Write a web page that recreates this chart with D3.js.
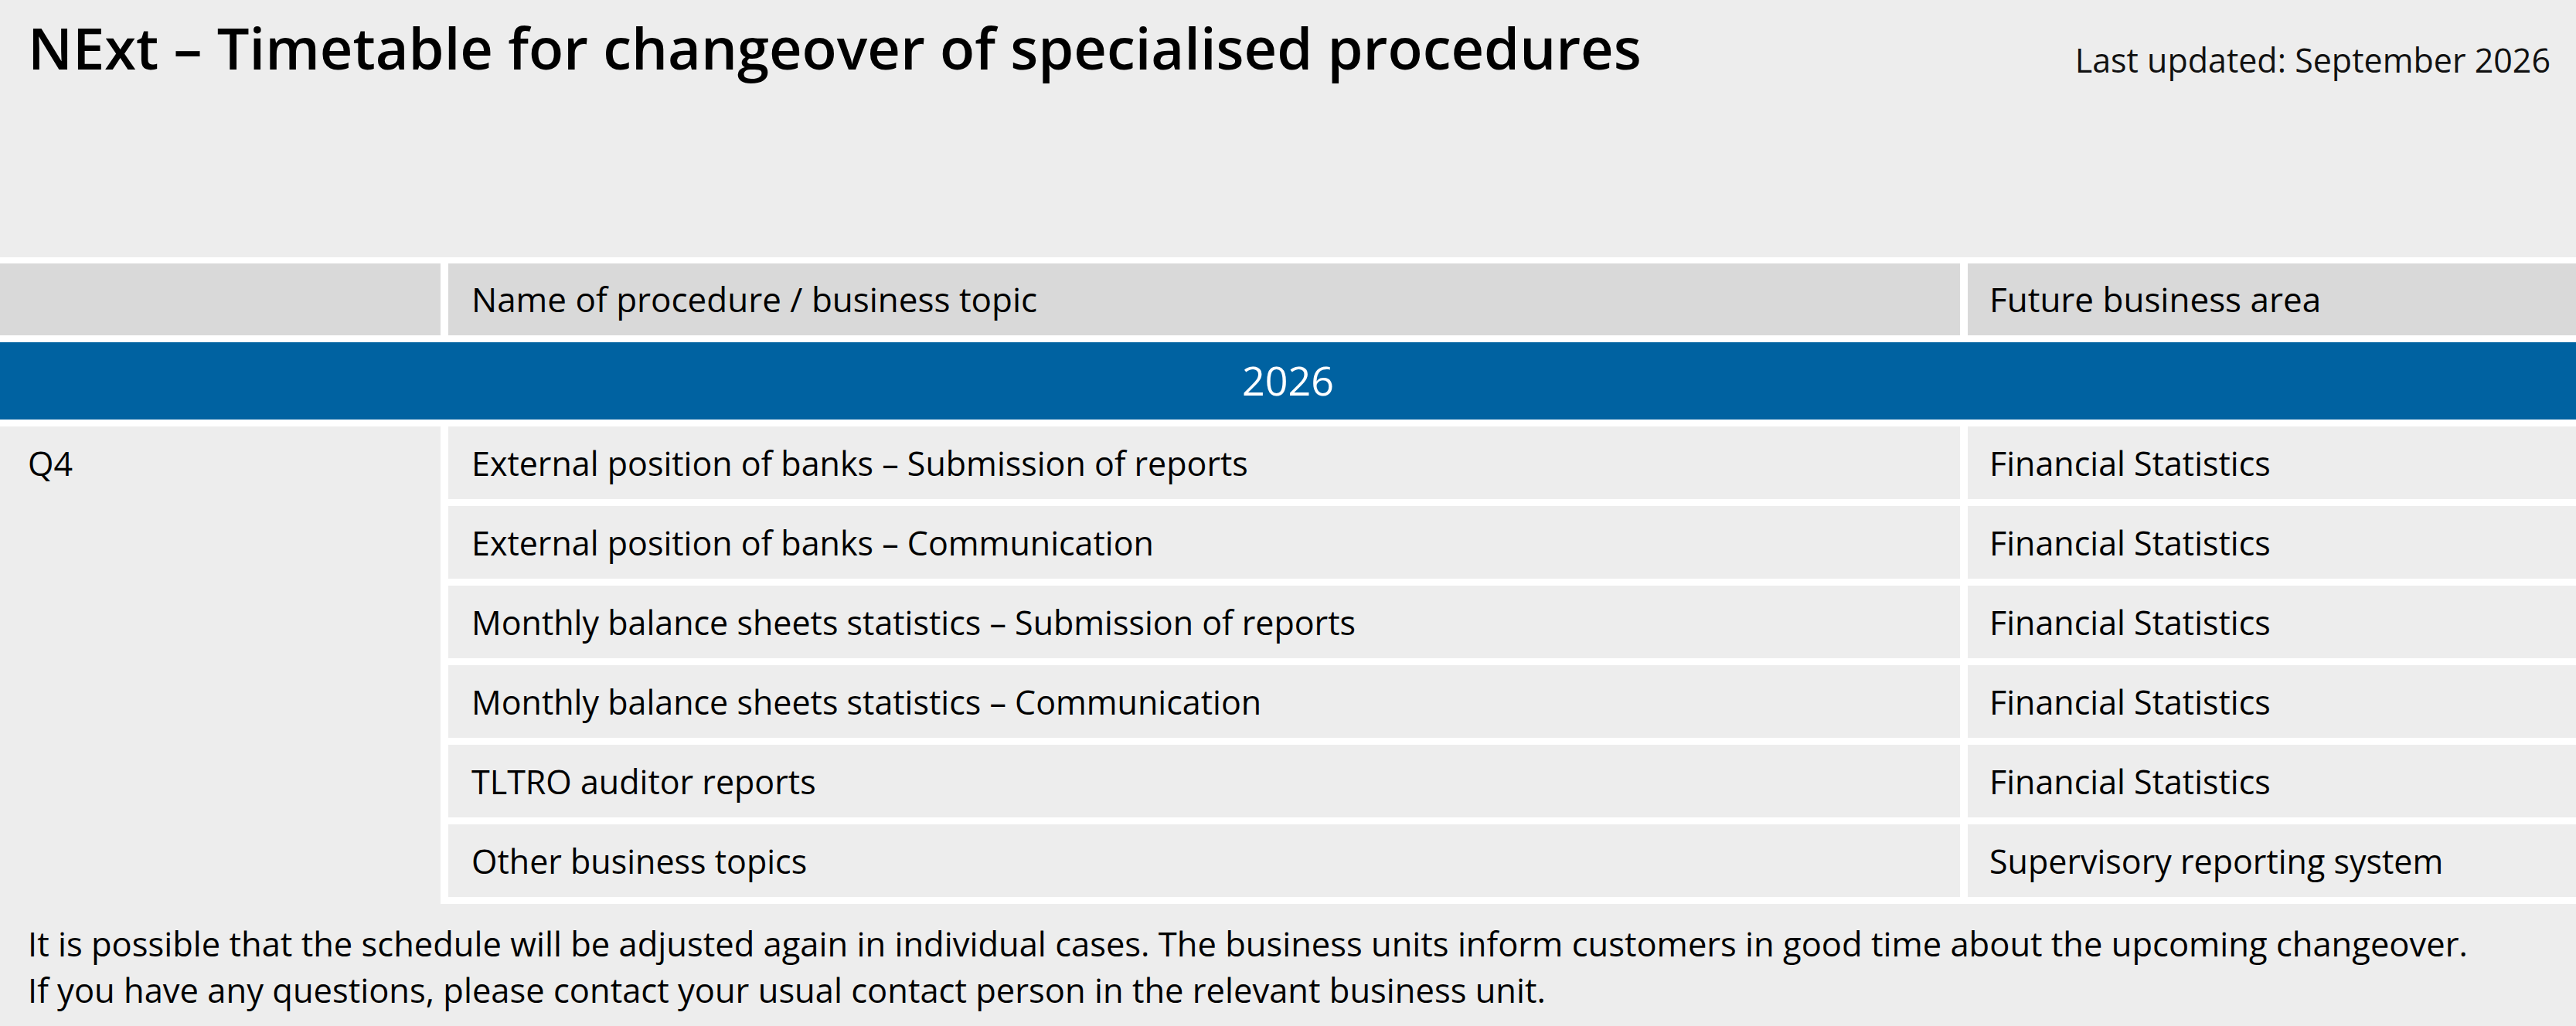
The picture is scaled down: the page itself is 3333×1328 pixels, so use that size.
<!DOCTYPE html>
<html><head><meta charset="utf-8">
<script src="https://cdn.jsdelivr.net/npm/d3@7"></script>
<style>body{margin:0;background:#ededed}svg{display:block}</style>
</head><body><svg id="chart"></svg>
<script>
const title = "NExt – Timetable for changeover of specialised procedures";
const updated = "Last updated: September 2026";
const headers = ["", "Name of procedure / business topic", "Future business area"];
const year = "2026";
const quarter = "Q4";
const procedures = [
  "External position of banks – Submission of reports",
  "External position of banks – Communication",
  "Monthly balance sheets statistics – Submission of reports",
  "Monthly balance sheets statistics – Communication",
  "TLTRO auditor reports",
  "Other business topics"
];
const areas = ["Financial Statistics", "Financial Statistics", "Financial Statistics",
  "Financial Statistics", "Financial Statistics", "Supervisory reporting system"];
const notes = [
  "It is possible that the schedule will be adjusted again in individual cases. The business units inform customers in good time about the upcoming changeover.",
  "If you have any questions, please contact your usual contact person in the relevant business unit."
];

const W = 3333, H = 1328, gap = 9, font = "'Open Sans', 'Noto Sans', sans-serif";
const svg = d3.select("#chart").attr("width", W).attr("height", H).style("font-family", font);
svg.append("rect").attr("width", W).attr("height", H).attr("fill", "#ededed");

const cols = [[0, 570], [580, 2536], [2546, W]];
const tx = [36, 610, 2574];

svg.append("text").attr("x", 36).attr("y", 90).attr("font-size", 74).attr("font-weight", 600).attr("fill", "#000").text(title);
svg.append("text").attr("x", 3300).attr("y", 94).attr("text-anchor", "end").attr("font-size", 43).attr("fill", "#111").text(updated);

// white band behind table
svg.append("rect").attr("x", 0).attr("y", 333).attr("width", W).attr("height", 840).attr("fill", "#fff");

// header
cols.forEach((c, i) => {
  svg.append("rect").attr("x", c[0]).attr("y", 341).attr("width", c[1] - c[0]).attr("height", 93).attr("fill", "#d9d9d9");
  svg.append("text").attr("x", tx[i]).attr("y", 404).attr("font-size", 44).attr("fill", "#000").text(headers[i]);
});

// year band
svg.append("rect").attr("x", 0).attr("y", 443).attr("width", W).attr("height", 100).attr("fill", "#0062a1");
svg.append("text").attr("x", W / 2).attr("y", 512).attr("text-anchor", "middle").attr("font-size", 52).attr("fill", "#fff").text(year);

const y = d3.scaleBand().domain(d3.range(procedures.length)).range([552, 552 + 6 * 103]).paddingInner(0);
const rowH = y.bandwidth() - gap;

svg.append("rect").attr("x", 0).attr("y", y(0)).attr("width", cols[0][1]).attr("height", y.range()[1] - y(0)).attr("fill", "#ededed");
svg.append("text").attr("x", tx[0]).attr("y", y(0) + 64).attr("font-size", 43).text(quarter);

const rows = svg.selectAll("g.row").data(procedures).join("g").attr("class", "row")
  .attr("transform", (d, i) => `translate(0,${y(i)})`);
[1, 2].forEach(ci => {
  rows.append("rect").attr("x", cols[ci][0]).attr("width", cols[ci][1] - cols[ci][0])
    .attr("height", rowH).attr("fill", "#ededed");
});
rows.append("text").attr("x", tx[1]).attr("y", 64).attr("font-size", 43).text(d => d);
rows.append("text").attr("x", tx[2]).attr("y", 64).attr("font-size", 43).text((d, i) => areas[i]);

svg.append("rect").attr("x", 0).attr("y", y.range()[1]).attr("width", W).attr("height", H).attr("fill", "#ededed");
notes.forEach((n, i) => svg.append("text").attr("x", 36).attr("y", 1238 + i * 60).attr("font-size", 43.5).text(n));
</script></body></html>
